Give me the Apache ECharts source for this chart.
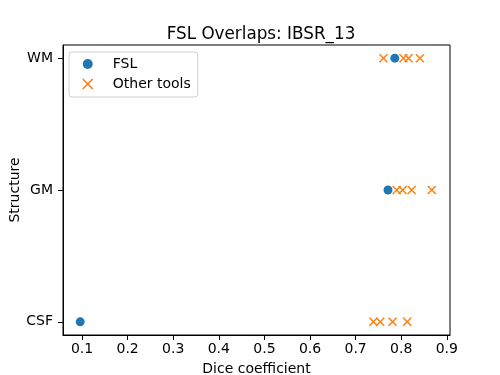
<!DOCTYPE html>
<html>
<head>
<meta charset="utf-8">
<script src="https://cdn.jsdelivr.net/npm/echarts@6/dist/echarts.min.js"></script>
<style>html,body{margin:0;padding:0;background:#fff}#c{width:500px;height:375px}</style>
</head>
<body>
<div id="c"></div>
<script>
const categories = ['CSF', 'GM', 'WM'];
const fslDice = [0.096, 0.771, 0.786];
const otherCSF = [0.739, 0.754, 0.781, 0.813];
const otherGM = [0.790, 0.803, 0.823, 0.867];
const otherWM = [0.761, 0.805, 0.816, 0.841];
const otherDice = [otherCSF, otherGM, otherWM];
const xTicks = [0.1, 0.2, 0.3, 0.4, 0.5, 0.6, 0.7, 0.8, 0.9];

const fslData = fslDice.map((v, i) => [v, i]);
const otherData = [];
otherDice.forEach((arr, i) => arr.forEach(v => otherData.push([v, i])));

const FONT = 'DejaVu Sans';
const xPath = 'path://M0,0L10,10M10,0L0,10';

const chart = echarts.init(document.getElementById('c'), null, {renderer: 'canvas'});
chart.setOption({
  animation: false,
  backgroundColor: '#fff',
  textStyle: {fontFamily: FONT},
  title: {
    text: 'FSL Overlaps: IBSR_13',
    left: 256, top: 21, textAlign: 'center',
    textStyle: {fontFamily: FONT, fontSize: 16.8, fontWeight: 'normal', color: '#000'}
  },
  grid: {left: 63, right: 50, top: 45, bottom: 40, containLabel: false, outerBoundsMode: 'none',
    show: true, borderColor: '#000', borderWidth: 1, backgroundColor: 'transparent'},
  legend: {
    orient: 'vertical', left: 69, top: 52,
    padding: [5, 7, 6, 13], itemGap: 6, itemWidth: 12, itemHeight: 10,
    borderColor: '#d0d0d0', borderWidth: 1, borderRadius: 3, backgroundColor: 'rgba(255,255,255,0.8)',
    textStyle: {fontFamily: FONT, fontSize: 14, color: '#000', padding: [0, 0, 0, 14]},
    data: [
      {name: 'FSL', icon: 'circle', itemStyle: {color: '#1f77b4'}},
      {name: 'Other tools', icon: xPath, itemStyle: {color: 'transparent', borderColor: '#ff7f0e', borderWidth: 1.5}}
    ]
  },
  xAxis: {
    type: 'value', min: 0.0583, max: 0.907,
    name: 'Dice coefficient', nameLocation: 'middle', nameGap: 27, nameMoveOverlap: false,
    nameTextStyle: {fontFamily: FONT, fontSize: 14, color: '#000'},
    axisLine: {show: true, onZero: false, lineStyle: {color: '#000'}},
    axisTick: {show: true, length: 5, lineStyle: {color: '#000'}, customValues: xTicks},
    axisLabel: {color: '#000', fontFamily: FONT, fontSize: 14, margin: 7, customValues: xTicks,
      formatter: v => (Math.round(v * 10) / 10).toFixed(1)},
    splitLine: {show: false}
  },
  yAxis: {
    type: 'value', min: -0.1, max: 2.1,
    name: 'Structure', nameLocation: 'middle', nameGap: 41, nameRotate: 90, nameMoveOverlap: false,
    nameTextStyle: {fontFamily: FONT, fontSize: 14, color: '#000'},
    axisLine: {show: true, onZero: false, lineStyle: {color: '#000'}},
    axisTick: {show: true, length: 5, lineStyle: {color: '#000'}, customValues: [0, 1, 2]},
    axisLabel: {color: '#000', fontFamily: FONT, fontSize: 14, margin: 10, customValues: [0, 1, 2],
      formatter: v => categories[Math.round(v)]},
    splitLine: {show: false}
  },
  series: [
    {name: 'FSL', type: 'scatter', data: fslData, symbol: 'circle', symbolSize: 9,
      itemStyle: {color: '#1f77b4', opacity: 1}, z: 3},
    {name: 'Other tools', type: 'scatter', data: otherData, symbol: xPath, symbolSize: 8,
      itemStyle: {color: 'transparent', borderColor: '#ff7f0e', borderWidth: 1.5, opacity: 1}, z: 4}
  ]
});
</script>
</body>
</html>
